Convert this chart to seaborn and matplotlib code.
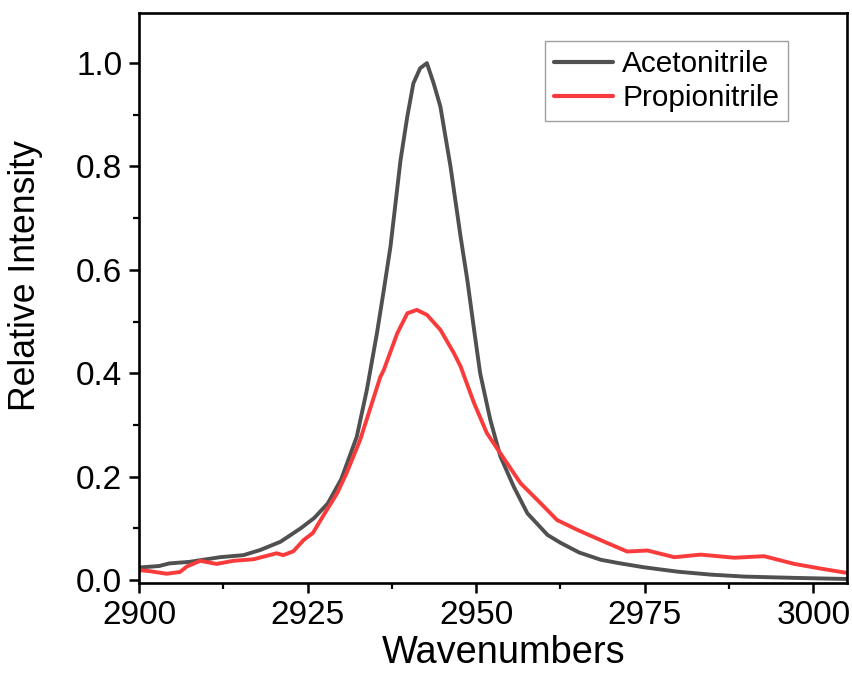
import numpy as np
import pandas as pd
import matplotlib
matplotlib.use("Agg")
import matplotlib.pyplot as plt
from matplotlib.ticker import MultipleLocator, FormatStrFormatter
import seaborn as sns

series_names = ["Acetonitrile", "Propionitrile"]

aceto_wn = [2900, 2903, 2904.5, 2907.5, 2912, 2915.5, 2918, 2921, 2924, 2926, 2928,
            2930, 2932.3, 2933.8, 2935.3, 2936.3, 2937.3, 2938.8, 2939.8, 2940.7,
            2941.7, 2942.7, 2943.7, 2944.7, 2946.2, 2947.7, 2948.7, 2949.7, 2950.6,
            2952.1, 2953.6, 2955.6, 2957.6, 2960.6, 2962.5, 2965.3, 2968.5, 2971.4,
            2974.9, 2979.9, 2984.8, 2989.8, 2997.2, 3004.6, 3006]
aceto_int = [0.024, 0.027, 0.032, 0.035, 0.044, 0.048, 0.058, 0.074, 0.100, 0.120, 0.148,
             0.195, 0.277, 0.368, 0.478, 0.560, 0.645, 0.813, 0.897, 0.961,
             0.990, 1.000, 0.961, 0.916, 0.800, 0.664, 0.580, 0.484, 0.400,
             0.310, 0.239, 0.180, 0.129, 0.087, 0.072, 0.053, 0.039, 0.032,
             0.0245, 0.016, 0.0103, 0.0065, 0.004, 0.002, 0.002]

propio_wn = [2900, 2901.6, 2904.1, 2906.1, 2907.1, 2909.1, 2911.5, 2914, 2917, 2920.4,
             2921.4, 2922.9, 2924.4, 2925.8, 2926.9, 2929.4, 2930.8, 2932.8, 2935.8,
             2936.3, 2938.3, 2939.8, 2941.2, 2942.7, 2944.7, 2946.7, 2947.7, 2949.7,
             2951.6, 2953.6, 2956.6, 2959.6, 2962, 2965, 2969, 2972.4, 2975.4, 2979.4,
             2983.3, 2988.3, 2992.7, 2997.2, 3001.1, 3004.8, 3006]
propio_int = [0.019, 0.017, 0.012, 0.0155, 0.026, 0.037, 0.031, 0.037, 0.040, 0.0516,
              0.048, 0.0555, 0.077, 0.091, 0.115, 0.168, 0.207, 0.271, 0.393,
              0.406, 0.477, 0.516, 0.5225, 0.513, 0.484, 0.439, 0.413, 0.342,
              0.284, 0.245, 0.187, 0.148, 0.116, 0.097, 0.074, 0.055, 0.057, 0.044,
              0.049, 0.043, 0.046, 0.031, 0.022, 0.014, 0.013]

df = pd.concat([
    pd.DataFrame({"Wavenumbers": aceto_wn, "Relative Intensity": aceto_int, "Sample": series_names[0]}),
    pd.DataFrame({"Wavenumbers": propio_wn, "Relative Intensity": propio_int, "Sample": series_names[1]}),
], ignore_index=True)

sns.set_style("ticks")
plt.rcParams["font.family"] = ["Liberation Sans", "DejaVu Sans"]
plt.rcParams["text.color"] = "black"
plt.rcParams["axes.labelcolor"] = "black"
plt.rcParams["xtick.color"] = "black"
plt.rcParams["ytick.color"] = "black"

fig = plt.figure(figsize=(8.52, 6.90), dpi=100)
ax = fig.add_axes([0.1631, 0.155, 0.8310, 0.8262])

palette = {"Acetonitrile": "#505050", "Propionitrile": "#F93B3B"}
sns.lineplot(data=df, x="Wavenumbers", y="Relative Intensity", hue="Sample",
             palette=palette, estimator=None, sort=False, linewidth=2.8, ax=ax)

ax.set_xlim(2900, 3005)
ax.set_ylim(-0.006, 1.097)
ax.xaxis.set_major_locator(MultipleLocator(25))
ax.xaxis.set_minor_locator(MultipleLocator(12.5))
ax.yaxis.set_major_locator(MultipleLocator(0.2))
ax.yaxis.set_minor_locator(MultipleLocator(0.1))
ax.yaxis.set_major_formatter(FormatStrFormatter("%.1f"))

for s in ax.spines.values():
    s.set_linewidth(1.9)
    s.set_color("black")
    s.set_visible(True)
ax.tick_params(which="major", length=7, width=1.8, labelsize=24, direction="out", pad=5)
ax.tick_params(which="minor", length=4.5, width=1.6, direction="out")
ax.tick_params(top=False, right=False, which="both")

ax.set_xlabel("Wavenumbers", fontsize=27.4)
ax.set_ylabel("Relative Intensity", fontsize=25.7)
ax.xaxis.set_label_coords(0.5155, -0.092, transform=ax.transAxes)
ax.yaxis.set_label_coords(-0.135, 0.539, transform=ax.transAxes)

leg = ax.legend(loc="upper right", bbox_to_anchor=(0.917, 0.95), borderaxespad=0,
                fontsize=21.4, frameon=True, fancybox=False, handlelength=2.0,
                handletextpad=0.3, borderpad=0.3, labelspacing=0.2)
leg.get_frame().set_edgecolor("#888888")
leg.get_frame().set_linewidth(1.0)
leg.set_title(None)
for line in leg.get_lines():
    line.set_linewidth(3)

fig.savefig("out.png", dpi=100, facecolor="white")
